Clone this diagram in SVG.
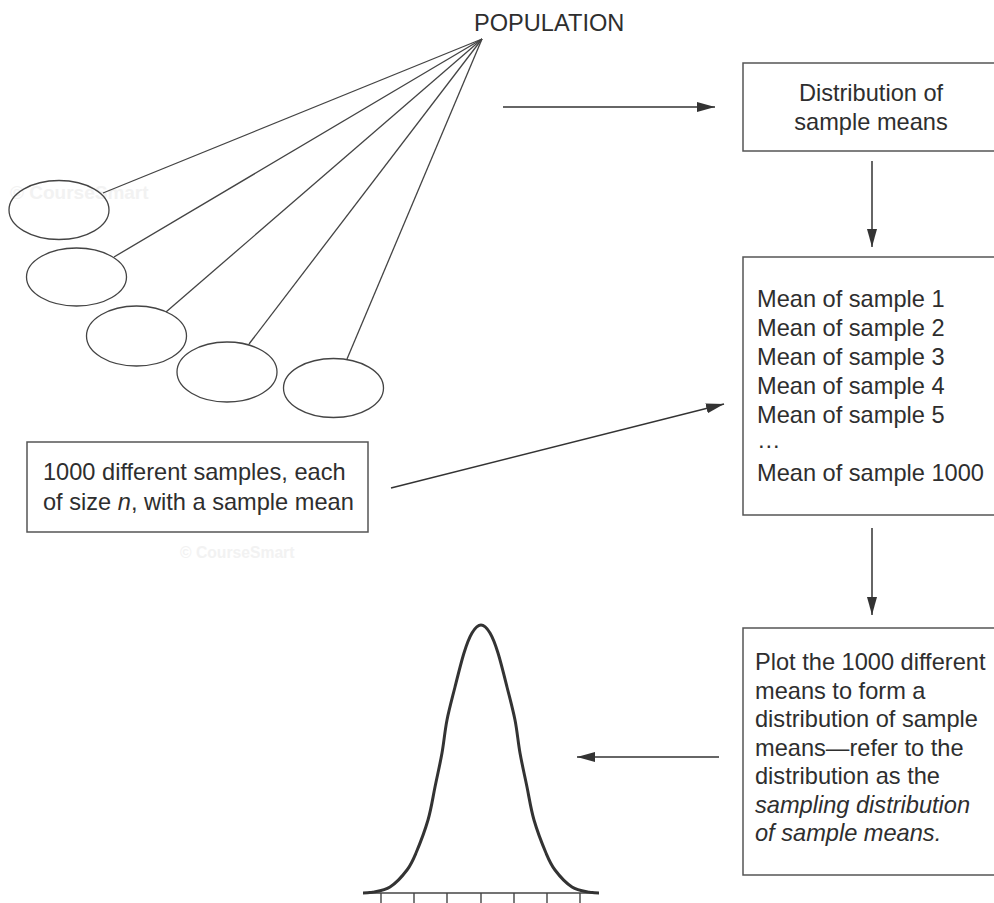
<svg xmlns="http://www.w3.org/2000/svg" width="994" height="903" viewBox="0 0 994 903">
<defs>
<marker id="ah" viewBox="0 0 18 10" refX="18" refY="5" markerWidth="18" markerHeight="10" markerUnits="userSpaceOnUse" orient="auto">
<path d="M0,0 L18,5 L0,10 Z" fill="#333"/>
</marker>
<style>
.t{font-family:"Liberation Sans",Arial,sans-serif;font-size:23.6px;fill:#2e2e2e}
.i{font-style:italic}
.box{fill:none;stroke:#555;stroke-width:1.5}
.ell{fill:none;stroke:#444;stroke-width:1.3}
.ln{fill:none;stroke:#444;stroke-width:1.3}
.ar{fill:none;stroke:#333;stroke-width:1.5;marker-end:url(#ah)}
.wm{font-family:"Liberation Sans",Arial,sans-serif;font-weight:bold;fill:#f2f2f2}
</style>
</defs>
<rect width="994" height="903" fill="#fff"/>
<text class="wm" x="10" y="199" font-size="19">© CourseSmart</text>
<text class="wm" x="180" y="558" font-size="15.7">© CourseSmart</text>

<g id="population">
<text class="t" x="474" y="31">POPULATION</text>
</g>
<g id="samples">
<ellipse class="ell" cx="59" cy="210" rx="50" ry="29.5"/>
<ellipse class="ell" cx="76.5" cy="277" rx="50" ry="29"/>
<ellipse class="ell" cx="136.5" cy="336" rx="50" ry="30"/>
<ellipse class="ell" cx="227" cy="372" rx="50" ry="30"/>
<ellipse class="ell" cx="333.5" cy="388" rx="50" ry="29.5"/>
</g>
<g id="box-samples">
<rect class="box" x="27" y="442" width="341" height="90"/>
<text class="t" x="43" y="480">1000 different samples, each</text>
<text class="t" x="43" y="510">of size <tspan class="i">n</tspan>, with a sample mean</text>
</g>
<g id="box-distribution">
<rect class="box" x="743" y="63" width="260" height="88"/>
<text class="t" x="871" y="101" text-anchor="middle">Distribution of</text>
<text class="t" x="871" y="130" text-anchor="middle">sample means</text>
</g>
<g id="box-means">
<rect class="box" x="743" y="257" width="260" height="258"/>
<text class="t" x="757" y="307">Mean of sample 1</text>
<text class="t" x="757" y="336">Mean of sample 2</text>
<text class="t" x="757" y="365">Mean of sample 3</text>
<text class="t" x="757" y="394">Mean of sample 4</text>
<text class="t" x="757" y="423">Mean of sample 5</text>
<text class="t" x="757" y="448">…</text>
<text class="t" x="757" y="481">Mean of sample 1000</text>
</g>
<g id="box-plot">
<rect class="box" x="743" y="628" width="260" height="247"/>
<text class="t" x="755" y="670">Plot the 1000 different</text>
<text class="t" x="755" y="698.5">means to form a</text>
<text class="t" x="755" y="727">distribution of sample</text>
<text class="t" x="755" y="755.5">means—refer to the</text>
<text class="t" x="755" y="784">distribution as the</text>
<text class="t i" x="755" y="812.5">sampling distribution</text>
<text class="t i" x="755" y="841">of sample means.</text>
</g>
<g id="normal-curve">
<line x1="363" y1="893" x2="598" y2="893" stroke="#444" stroke-width="1.5"/>
<g stroke="#444" stroke-width="1.4">
<line x1="381" y1="893" x2="381" y2="903"/>
<line x1="414" y1="893" x2="414" y2="903"/>
<line x1="447" y1="893" x2="447" y2="903"/>
<line x1="481" y1="893" x2="481" y2="903"/>
<line x1="514" y1="893" x2="514" y2="903"/>
<line x1="547" y1="893" x2="547" y2="903"/>
<line x1="580" y1="893" x2="580" y2="903"/>
</g>
<path fill="none" stroke="#333" stroke-width="3" d="M363 893 C364.5 893 367.5 893 372 892.3 C376.5 891.3 384.2 890.7 390 887 C395.8 883.3 402.7 875.7 407 870 C411.3 864.3 412.5 861.3 416 853 C419.5 844.7 424.8 831 428 820 C431.2 809 432.7 798.2 435 787 C437.3 775.8 440 764.2 442 753 C444 741.8 444.8 731 447 720 C449.2 709 452.2 698.2 455 687 C457.8 675.8 461.2 662 464 653 C466.8 644 469.2 637.7 472 633 C474.8 628.3 478 625 481 625 C484 625 487.2 628.3 490 633 C492.8 637.7 495.2 644 498 653 C500.8 662 504.2 675.8 507 687 C509.8 698.2 512.8 709 515 720 C517.2 731 518 741.8 520 753 C522 764.2 524.7 775.8 527 787 C529.3 798.2 530.8 809 534 820 C537.2 831 542.5 844.7 546 853 C549.5 861.3 550.7 864.3 555 870 C559.3 875.7 566.2 883.3 572 887 C577.8 890.7 585.5 891.3 590 892.3 C594.5 893 597.5 893 599 893"/>
</g>
<g id="connectors">
<line class="ln" x1="482" y1="39" x2="103" y2="193"/>
<line class="ln" x1="482" y1="39" x2="114" y2="257"/>
<line class="ln" x1="482" y1="39" x2="166" y2="312"/>
<line class="ln" x1="482" y1="39" x2="249" y2="344"/>
<line class="ln" x1="482" y1="39" x2="347" y2="359"/>
<line class="ar" x1="503" y1="107" x2="715" y2="107"/>
<line class="ar" x1="872" y1="161" x2="872" y2="247"/>
<line class="ar" x1="872" y1="528" x2="872" y2="615"/>
<line class="ar" x1="391" y1="488" x2="724" y2="404"/>
<line class="ar" x1="719" y1="757" x2="577" y2="757"/>
</g>
</svg>
